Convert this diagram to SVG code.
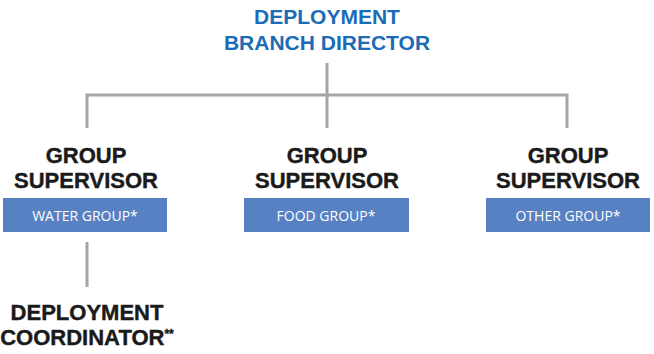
<svg xmlns="http://www.w3.org/2000/svg" width="654" height="354" viewBox="0 0 654 354">
<style>
.title{font-family:"Liberation Sans",Arial,sans-serif;font-weight:bold;font-size:21px;fill:#1b6cb6;text-anchor:middle}
.role{font-family:"Liberation Sans",Arial,sans-serif;font-weight:bold;font-size:22px;fill:#1a1a1a;text-anchor:middle;stroke:#1a1a1a;stroke-width:0.4}
.box{fill:#5881c3}
.lbl{font-family:"Open Sans","Liberation Sans",sans-serif;font-size:14px;fill:#ffffff;text-anchor:middle}
.sup{font-size:12px}
.conn{stroke:#a5a5a5;stroke-width:3;fill:none}
</style>
<g id="connectors">
<path class="conn" d="M327 63V95M87 95H567M87 93.5V128M327 95V128M567 93.5V128"/>
<path class="conn" d="M87 242V287"/>
</g>
<g id="director">
<text class="title" x="327" y="24">DEPLOYMENT</text>
<text class="title" x="327" y="50">BRANCH DIRECTOR</text>
</g>
<g id="water">
<text class="role" x="86" y="163">GROUP</text>
<text class="role" x="86" y="188">SUPERVISOR</text>
<rect class="box" x="3" y="198" width="164" height="34"/>
<text class="lbl" x="85" y="221">WATER GROUP*</text>
</g>
<g id="food">
<text class="role" x="327" y="163">GROUP</text>
<text class="role" x="327" y="188">SUPERVISOR</text>
<rect class="box" x="244" y="198" width="165" height="34"/>
<text class="lbl" x="326" y="221">FOOD GROUP*</text>
</g>
<g id="other">
<text class="role" x="568" y="163">GROUP</text>
<text class="role" x="568" y="188">SUPERVISOR</text>
<rect class="box" x="486" y="198" width="164" height="34"/>
<text class="lbl" x="568" y="221">OTHER GROUP*</text>
</g>
<g id="coordinator">
<text class="role" x="87" y="320">DEPLOYMENT</text>
<text class="role" x="87" y="345">COORDINATOR<tspan class="sup" dy="-7">**</tspan></text>
</g>
</svg>
